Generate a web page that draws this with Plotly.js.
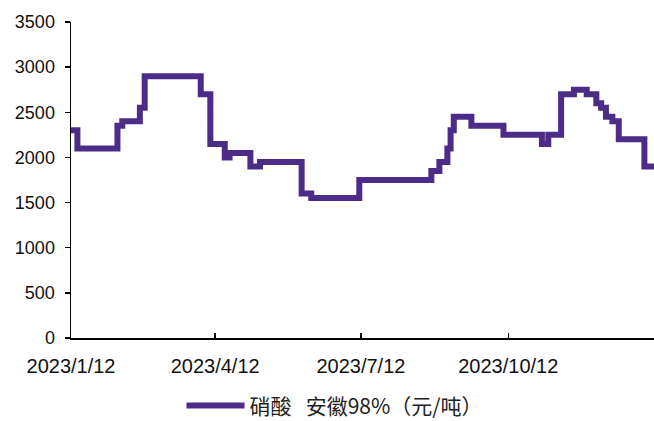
<!DOCTYPE html>
<html>
<head>
<meta charset="utf-8">
<script src="https://cdn.plot.ly/plotly-3.0.1.min.js"></script>
<style>html,body{margin:0;padding:0;background:#fff;}#chart{width:654px;height:421px;}</style>
</head>
<body>
<div id="chart"></div>
<script>
const dates = [
  "2023-01-12","2023-01-16","2023-02-10","2023-02-13","2023-02-24","2023-02-27",
  "2023-04-03","2023-04-09","2023-04-18","2023-04-21","2023-05-04","2023-05-10",
  "2023-06-05","2023-06-11","2023-07-11","2023-08-25","2023-08-30","2023-09-04",
  "2023-09-06","2023-09-08","2023-09-19","2023-10-09","2023-11-02","2023-11-06",
  "2023-11-14","2023-11-22","2023-11-30","2023-12-06","2023-12-09","2023-12-12",
  "2023-12-16","2023-12-20","2024-01-05","2024-01-11"
];
const prices = [
  2300,2100,2350,2400,2550,2900,
  2700,2150,2000,2050,1900,1950,
  1600,1550,1750,1850,1950,2100,
  2300,2450,2350,2250,2150,2250,
  2700,2750,2700,2600,2550,2450,
  2400,2200,1900,1900
];
const tickDates = ["2023-01-12","2023-04-12","2023-07-12","2023-10-12"];
const tickLabels = ["2023/1/12","2023/4/12","2023/7/12","2023/10/12"];
const yTicks = [0,500,1000,1500,2000,2500,3000,3500];
const seriesName = "硝酸\u00A0\u00A0\u00A0安徽98%（元/吨）";

const trace = {
  x: dates, y: prices, type: "scatter", mode: "lines",
  name: seriesName,
  line: {color: "#4B2D87", width: 6, shape: "hv"},
  showlegend: true
};
const layout = {
  width: 654, height: 421,
  margin: {l: 71, r: 0, t: 22, b: 83, autoexpand: false},
  paper_bgcolor: "#fff", plot_bgcolor: "#fff",
  showlegend: true,
  legend: {orientation: "h", x: 0.452, xanchor: "center", y: -0.215, yanchor: "middle",
    font: {family: "Noto Sans CJK SC", size: 21, color: "#222"}, itemwidth: 58,
    borderwidth: 0, tracegroupgap: 0},
  xaxis: {
    type: "date", range: ["2023-01-12", "2024-01-11"],
    tickvals: tickDates, ticktext: tickLabels,
    showline: true, linecolor: "#000", linewidth: 1.5,
    ticks: "inside", ticklen: 5, tickcolor: "#000", tickwidth: 1.5,
    showgrid: false, zeroline: false, automargin: false,
    tickfont: {family: "Liberation Sans", size: 20, color: "#111"},
    ticklabelstandoff: 9
  },
  yaxis: {
    range: [0, 3500], tickvals: yTicks,
    showline: true, linecolor: "#000", linewidth: 1.5,
    ticks: "outside", ticklen: 5, tickcolor: "#000", tickwidth: 1.5,
    showgrid: false, zeroline: false, automargin: false,
    tickfont: {family: "Liberation Sans", size: 18, color: "#111"},
    ticklabelstandoff: 6
  }
};
Plotly.newPlot("chart", [trace], layout, {staticPlot: true, displayModeBar: false});
</script>
</body>
</html>
